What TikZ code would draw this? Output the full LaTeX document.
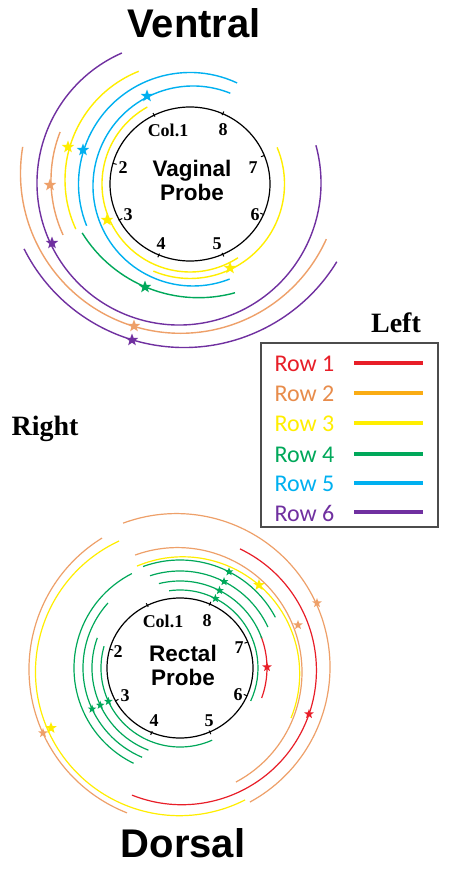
\documentclass[tikz,border=0pt]{standalone}
\usepackage{fontspec}
\setmainfont{Liberation Serif}
\newfontfamily\hsans{Liberation Sans}
\newfontfamily\calib{Carlito}
\usetikzlibrary{shapes.geometric}
\definecolor{cred}{RGB}{232,30,40}
\definecolor{corange}{RGB}{238,160,105}
\definecolor{corangeline}{RGB}{250,172,20}
\definecolor{corangetext}{RGB}{232,140,75}
\definecolor{cyellow}{RGB}{255,238,0}
\definecolor{cgreen}{RGB}{0,168,90}
\definecolor{ccyan}{RGB}{0,176,240}
\definecolor{cpurple}{RGB}{112,48,160}
\newcommand\parc[6]{\draw[#1] (#2,#3) ++(#5:#4) arc[start angle=#5,end angle=#6,radius=#4];}
\begin{document}
\begin{tikzpicture}[x=1pt,y=-1pt,
  topline/.style={line width=1.4pt},
  botline/.style={line width=1.2pt},
  starmark/.style={star, star points=5, star point ratio=2.4, inner sep=0pt, minimum size=#1, draw=none},
  starmark/.default=13pt,
  title/.style={font=\hsans\bfseries\fontsize{40}{40}\selectfont},
  side/.style={font=\bfseries\fontsize{28}{28}\selectfont},
  num/.style={font=\bfseries\fontsize{18}{18}\selectfont, inner sep=0pt},
  probe/.style={font=\hsans\bfseries\fontsize{22.5}{24}\selectfont, align=center, inner sep=0pt},
  rowlab/.style={font=\calib\fontsize{24}{24}\selectfont, inner sep=0pt},
  legline/.style={line width=3.6pt},
  tick/.style={line width=1pt, black}]
\useasboundingbox (0,0) rectangle (448,869);
\fill[white] (0,0) rectangle (448,869);

% ---------- titles ----------
\node[title] (ventral) at (194,23) {Ventral};
\node[title] (dorsal) at (183,843) {Dorsal};
\node[side] (left) at (396,323) {Left};
\node[side] (right) at (45,429) {Right};

% ---------- legend ----------
\draw[line width=1.2pt, black!70] (261,343) rectangle (438,527);
\node[rowlab, text=cred] (r1) at (304.5,364) {Row 1};
\node[rowlab, text=corangetext] (r2) at (304.5,394) {Row 2};
\node[rowlab, text=cyellow] (r3) at (304.5,424) {Row 3};
\node[rowlab, text=cgreen] (r4) at (304.5,455) {Row 4};
\node[rowlab, text=ccyan] (r5) at (304.5,484) {Row 5};
\node[rowlab, text=cpurple] (r6) at (304.5,513) {Row 6};
\draw[legline, cred] (354,363) -- (423,363);
\draw[legline, corangeline] (354,393) -- (423,393);
\draw[legline, cyellow] (354,423) -- (423,423);
\draw[legline, cgreen] (354,454) -- (423,454);
\draw[legline, ccyan] (354,483) -- (423,483);
\draw[legline, cpurple] (354,512) -- (423,512);

% ---------- top (vaginal) ----------
\parc{topline,cpurple}{179}{183}{142}{246.3}{-15.4}
\parc{topline,cpurple}{184}{168.5}{179}{153.3}{31.4}
\parc{topline,corange}{180.5}{173.3}{160}{189.5}{24.3}
\parc{topline,corange}{182}{180}{131}{201.5}{155.2}
\parc{topline,cyellow}{182}{180}{117}{248.3}{155.2}
\parc{topline,ccyan}{190}{184}{111.5}{295}{158}
\parc{topline,ccyan}{193}{186}{100}{291.9}{68.5}
\parc{topline,cyellow}{190}{184}{88}{241}{57}
\parc{topline,cyellow}{190}{184}{94.5}{-22.8}{112.8}
\parc{topline,cgreen}{198.6}{160.7}{137}{148.2}{74.6}

\draw[line width=1.2pt, black] (190,184) circle[x radius=80, y radius=77];
\foreach \a in {22.5,65,113.7,153,195,242.5,295,339}
  \draw[tick] (190,184) ++(\a:76) -- ++(\a:4);

\node[starmark, fill=cpurple] (s1) at (52,243) {};
\node[starmark, fill=cpurple] (s2) at (132,340) {};
\node[starmark, fill=corange] (s3) at (134,326) {};
\node[starmark, fill=corange] (s4) at (50,185) {};
\node[starmark, fill=cyellow] (s5) at (68,147) {};
\node[starmark, fill=ccyan] (s6) at (83,150) {};
\node[starmark, fill=ccyan] (s7) at (147,96) {};
\node[starmark, fill=cyellow] (s8) at (107,220) {};
\node[starmark, fill=cyellow] (s9) at (230,268) {};
\node[starmark, fill=cgreen] (s10) at (145,287) {};

\node[num] (tc1) at (168,130) {Col.1};
\node[num] (t8) at (223,130) {8};
\node[num] (t2) at (123,168) {2};
\node[num] (t7) at (253,168) {7};
\node[num] (t3) at (128,215) {3};
\node[num] (t6) at (255,215) {6};
\node[num] (t4) at (161,244) {4};
\node[num] (t5) at (217,244) {5};
\node[probe] (vp) at (192,180) {Vaginal\\Probe};

% ---------- bottom (rectal) ----------
\coordinate (bc) at (180,668);
\parc{botline,corange}{176.4}{667.2}{153.6}{249.7}{421.4}
\parc{botline,corange}{183.3}{669.2}{154.3}{238.2}{111.4}
\parc{botline,corange}{177.5}{672.1}{124.5}{250.1}{422.0}
\parc{botline,cyellow}{179.5}{671.7}{144}{245.2}{62.9}
\parc{botline,cyellow}{182.7}{673.8}{117}{247.0}{382.2}
\parc{botline,cred}{181.9}{670.2}{134.5}{-64.4}{111.8}
\parc{botline,cred}{180}{668}{87}{-21.3}{20.2}
% green: top-right arcs
\parc{botline,cgreen}{180}{668}{108}{250}{332}
\parc{botline,cgreen}{180}{668}{97}{252}{335}
\parc{botline,cgreen}{180}{668}{87}{256}{340}
\parc{botline,cgreen}{180}{668}{78}{262}{385}
% green: left arcs
\parc{botline,cgreen}{180}{668}{106}{243}{116}
\parc{botline,cgreen}{180}{668}{97}{222}{113}
\parc{botline,cgreen}{180}{668}{88}{200}{111}
\parc{botline,cgreen}{180}{668}{79}{196}{66}

\draw[line width=1.2pt, black] (bc) circle[x radius=73, y radius=70];
\foreach \a in {22.5,65,113.7,153,195,242.5,295,339}
  \draw[tick] (bc) ++(\a:69) -- ++(\a:4);

\node[starmark=10pt, fill=corange] (b1) at (317,603) {};
\node[starmark=10pt, fill=corange] (b2) at (43,733) {};
\node[starmark=10pt, fill=corange] (b3) at (298,625) {};
\node[starmark=12pt, fill=cyellow] (b4) at (51,728) {};
\node[starmark=12pt, fill=cyellow] (b5) at (259,585) {};
\node[starmark=10pt, fill=cred] (b6) at (309,714) {};
\node[starmark=10pt, fill=cred] (b7) at (267,667) {};
\node[starmark=9pt, fill=cgreen] (g1) at ([shift={(297:108)}]bc) {};
\node[starmark=9pt, fill=cgreen] (g2) at ([shift={(297:97)}]bc) {};
\node[starmark=9pt, fill=cgreen] (g3) at ([shift={(297:87)}]bc) {};
\node[starmark=9pt, fill=cgreen] (g4) at ([shift={(297:78)}]bc) {};
\node[starmark=9pt, fill=cgreen] (g5) at ([shift={(155:97)}]bc) {};
\node[starmark=9pt, fill=cgreen] (g6) at ([shift={(155:88)}]bc) {};
\node[starmark=9pt, fill=cgreen] (g7) at ([shift={(155:79)}]bc) {};

\node[num] (bc1) at (163,621) {Col.1};
\node[num] (b8) at (207,621) {8};
\node[num] (b2l) at (118,652) {2};
\node[num] (b7l) at (239,648) {7};
\node[num] (b3l) at (125,696) {3};
\node[num] (b6l) at (238,695) {6};
\node[num] (b4l) at (154,721) {4};
\node[num] (b5l) at (209,721) {5};
\node[probe] (rp) at (183,665) {Rectal\\Probe};
\end{tikzpicture}
\end{document}
